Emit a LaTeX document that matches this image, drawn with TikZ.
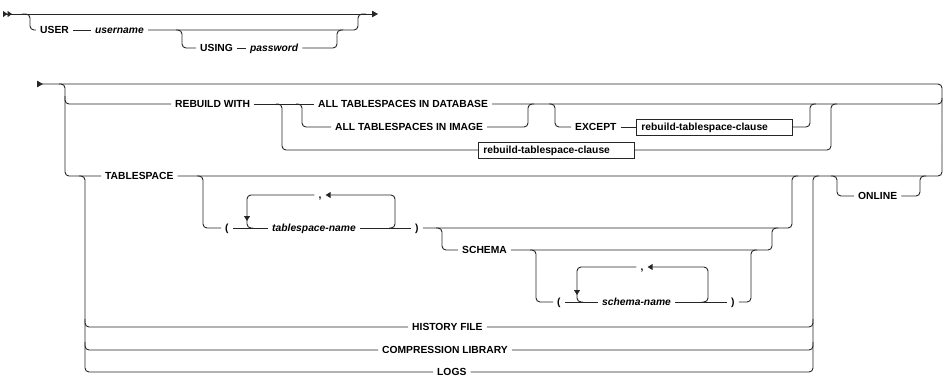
\documentclass[tikz,border=0pt]{standalone}
\usepackage{fontspec}
\setmainfont{Liberation Sans}
\usetikzlibrary{arrows.meta}

\begin{document}
\begin{tikzpicture}[x=1pt, y=-1pt, >={Triangle[length=5pt,width=6pt]},
  rail/.style={draw=black!85, line width=0.9pt, rounded corners=4pt},
  kw/.style={font=\fontsize{10.3}{12}\selectfont\bfseries, inner xsep=4pt, inner ysep=1pt,
    text height=7.3pt, text depth=0pt, anchor=west},
  var/.style={kw, font=\fontsize{10.3}{12}\selectfont\bfseries\itshape},
  clause/.style={kw, draw=black!85, line width=0.9pt, text width=146pt, inner xsep=5pt,
    minimum height=16pt}]
  \useasboundingbox (0,0) rectangle (951,376);

  % First line: optional user and password
  \coordinate (in1) at (3,14);
  \coordinate (out1) at (378,14);
  \draw[rail, {Triangle[reversed,length=4.5pt,width=6pt] Triangle[reversed,length=4.5pt,width=6pt]}-{Triangle[length=6pt,width=6.5pt]}]
    (in1) -- (out1);

  \node[kw] (user) at (36,30) {USER};
  \node[var] (uname) at (91,30) {username};
  \node[kw] (using) at (196,48) {USING};
  \node[var] (pwd) at (246,48) {password};

  \draw[rail] (22,14) -- (30,14) |- (user.west);
  \draw[rail] (user) -- (uname);
  \draw[rail] (uname) -| (358,14) -- (366,14);
  \draw[rail] (176,30) -- (182,30) |- (using.west);
  \draw[rail] (using) -- (pwd);
  \draw[rail] (pwd) -| (337,30) -- (343,30);

  % Second line: main choice
  \coordinate (in2) at (37,84);
  \draw[rail, {Triangle[reversed,length=6pt,width=6.5pt]}-] (in2) -- (942,84) -- (942,150);

  \node[kw] (rebuild) at (171,104) {REBUILD WITH};
  \node[kw] (alldb) at (314,104) {ALL TABLESPACES IN DATABASE};
  \node[kw] (allimg) at (331,127) {ALL TABLESPACES IN IMAGE};
  \node[kw] (except) at (571,127) {EXCEPT};
  \node[clause] (rtca) at (636,127) {rebuild-tablespace-clause};
  \node[clause] (rtcb) at (478,150) {rebuild-tablespace-clause};
  \node[kw] (tbs) at (101,176) {TABLESPACE};

  \draw[rail] (59,84) -- (65,84) |- (tbs.west);
  \draw[rail] (65,96) |- (rebuild.west);
  \draw[rail] (rebuild) -- (alldb);
  \draw[rail] (276,104) -- (282,104) |- (rtcb.west);
  \draw[rail] (296,104) -- (302,104) |- (allimg.west);
  \draw[rail] (allimg) -| (528,104) -- (534,104);
  \draw[rail] (alldb) -| (942,98);
  \draw[rail] (549,104) -- (555,104) |- (except.west);
  \draw[rail] (except) -- (rtca);
  \draw[rail] (rtca) -| (810,104) -- (816,104);
  \draw[rail] (rtcb) -| (831,104) -- (837,104);
  \draw[rail] (tbs) -| (942,150);

  % Tablespace names
  \node[kw] (lpa) at (221,228) {(};
  \node[var] (tsname) at (268,228) {tablespace-name};
  \node[kw] (rpa) at (411,228) {)};
  \node[kw, anchor=center] (comma1) at (320,195) {,};

  \draw[rail] (197,176) -- (203,176) |- (lpa.west);
  \draw[rail] (lpa) -- (tsname);
  \draw[rail] (tsname) -- (rpa);
  \draw[rail] (rpa) -| (792,176) -- (798,176);
  \draw[rail, ->] (389,228) -- (395,228) |- (comma1.east);
  \draw[rail, ->] (comma1.west) -| (247,221);
  \draw[rail] (247,216) |- (253,228);

  % Schema names
  \node[kw] (schema) at (458,250) {SCHEMA};
  \node[kw] (lpb) at (553,302) {(};
  \node[var] (sname) at (598,302) {schema-name};
  \node[kw] (rpb) at (727,302) {)};
  \node[kw, anchor=center] (comma2) at (642,267) {,};

  \draw[rail] (436,228) -- (442,228) |- (schema.west);
  \draw[rail] (schema) -| (772,228) -- (778,228);
  \draw[rail] (530,250) -- (536,250) |- (lpb.west);
  \draw[rail] (lpb) -- (sname);
  \draw[rail] (sname) -- (rpb);
  \draw[rail] (rpb) -| (751,250) -- (757,250);
  \draw[rail, ->] (702,302) -- (708,302) |- (comma2.east);
  \draw[rail, ->] (comma2.west) -| (577,295);
  \draw[rail] (577,290) |- (583,302);

  % Other sources
  \node[kw] (hist) at (408,327) {HISTORY FILE};
  \node[kw] (comp) at (378,350) {COMPRESSION LIBRARY};
  \node[kw] (logs) at (433,372) {LOGS};

  \draw[rail] (79,176) -- (85,176) |- (logs.west);
  \draw[rail] (85,319) |- (hist.west);
  \draw[rail] (85,342) |- (comp.west);
  \draw[rail] (logs) -| (813,176) -- (819,176);
  \draw[rail] (hist) -| (813,319);
  \draw[rail] (comp) -| (813,342);

  % Online
  \node[kw] (online) at (854,196) {ONLINE};
  \draw[rail] (831,176) -- (837,176) |- (online.west);
  \draw[rail] (online) -| (920,176) -- (926,176);
\end{tikzpicture}
\end{document}
